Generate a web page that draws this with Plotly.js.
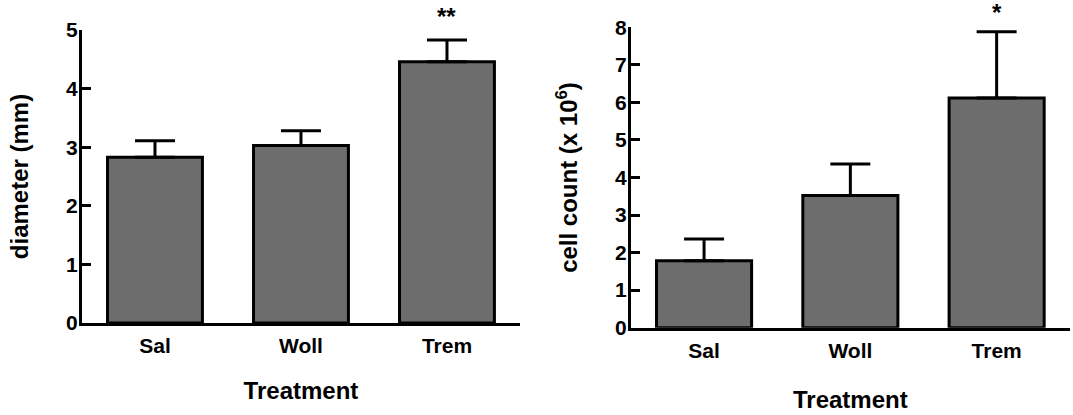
<!DOCTYPE html>
<html>
<head>
<meta charset="utf-8">
<script src="https://cdn.plot.ly/plotly-3.0.1.min.js"></script>
<style>html,body{margin:0;padding:0;background:#fff;}#chart{width:1073px;height:415px;}</style>
</head>
<body>
<div id="chart"></div>
<script>
// Data
const categories = ["Sal", "Woll", "Trem"];
const diameterMean = [2.83, 3.03, 4.46];
const diameterSEM  = [0.28, 0.25, 0.37];
const cellCountMean = [1.78, 3.52, 6.12];
const cellCountSEM  = [0.58, 0.84, 1.76];
const diameterSig = ["", "", "**"];
const cellCountSig = ["", "", "*"];
const diameterTicks = [0, 1, 2, 3, 4, 5];
const cellCountTicks = [0, 1, 2, 3, 4, 5, 6, 7, 8];

const FONT = "Liberation Sans, Arial, sans-serif";
const barColor = "#6d6d6d";

function barTrace(vals, errs, xa, ya) {
  return {
    type: "bar",
    x: categories,
    y: vals,
    xaxis: xa, yaxis: ya,
    width: 0.65,
    marker: {color: barColor, line: {color: "#000", width: 3}},
    error_y: {type: "data", symmetric: false, array: errs, arrayminus: errs.map(() => 0),
              color: "#000", thickness: 3, width: 20},
    showlegend: false,
    hoverinfo: "none"
  };
}

const traces = [
  barTrace(diameterMean, diameterSEM, "x", "y"),
  barTrace(cellCountMean, cellCountSEM, "x2", "y2")
];

const annotations = [];
categories.forEach((c, i) => {
  if (diameterSig[i]) annotations.push({
    xref: "x", yref: "y", x: c, y: diameterMean[i] + diameterSEM[i],
    text: diameterSig[i], showarrow: false, yanchor: "bottom", yshift: 8,
    font: {family: FONT, size: 24, color: "#000", weight: "bold"}
  });
  if (cellCountSig[i]) annotations.push({
    xref: "x2", yref: "y2", x: c, y: cellCountMean[i] + cellCountSEM[i],
    text: cellCountSig[i], showarrow: false, yanchor: "bottom", yshift: 4,
    font: {family: FONT, size: 24, color: "#000", weight: "bold"}
  });
});

const tickFont = {family: FONT, size: 21, color: "#000", weight: "bold"};
const titleFont = {family: FONT, size: 24, color: "#000", weight: "bold"};

function xAxis(domain, anchor, standoff) {
  return {
    domain: domain, anchor: anchor,
    type: "category", range: [-0.5, 2.5],
    showline: true, linecolor: "#000", linewidth: 3,
    ticks: "", showgrid: false, zeroline: false,
    tickfont: tickFont, ticklabelstandoff: 2,
    title: {text: "Treatment", font: titleFont, standoff: standoff},
    fixedrange: true
  };
}
function yAxis(domain, anchor, range, ticks, title) {
  return {
    domain: domain, anchor: anchor,
    range: range, tickvals: ticks, ticktext: ticks.map(String),
    showline: true, linecolor: "#000", linewidth: 3,
    ticks: "inside", ticklen: 9, tickwidth: 3, tickcolor: "#000",
    showgrid: false, zeroline: false,
    tickfont: tickFont, ticklabelstandoff: -3,
    title: {text: title, font: titleFont, standoff: 31},
    fixedrange: true
  };
}

const layout = {
  width: 1073, height: 415,
  margin: {l: 0, r: 0, t: 0, b: 0},
  paper_bgcolor: "#fff", plot_bgcolor: "rgba(0,0,0,0)",
  font: {family: FONT, color: "#000"},
  xaxis: xAxis([0.0764, 0.4846], "y", 27),
  yaxis: yAxis([0.2217, 0.9277], "x", [0, 5], diameterTicks, "diameter (mm)"),
  xaxis2: xAxis([0.588, 0.997], "y2", 31),
  yaxis2: yAxis([0.2104, 0.9342], "x2", [0, 8], cellCountTicks, "cell count (x 10<sup>6</sup>)"),
  annotations: annotations,
  showlegend: false
};

Plotly.newPlot("chart", traces, layout, {staticPlot: true, displayModeBar: false});
</script>
</body>
</html>
